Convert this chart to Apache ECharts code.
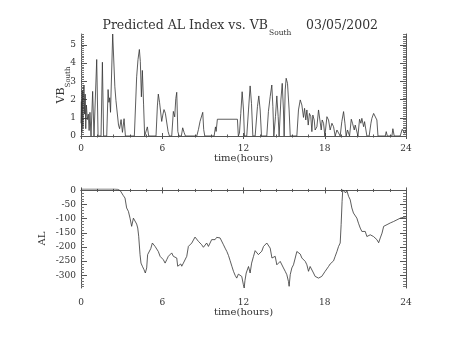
<!DOCTYPE html>
<html>
<head>
<meta charset="utf-8">
<script src="https://cdn.jsdelivr.net/npm/echarts@6/dist/echarts.min.js"></script>
<style>
  html, body { margin: 0; padding: 0; background: #fff; }
  #chart { width: 454px; height: 341px; }
</style>
</head>
<body>
<div id="chart"></div>
<script>
// Southward solar-wind driver VB_South (mV/m), sampled over the day (hours UT)
const vbHours = [
  0.00, 0.03, 0.06, 0.10, 0.14, 0.18, 0.22, 0.27, 0.31, 0.35, 0.40, 0.47, 0.54, 0.60, 0.66, 0.74,
  0.86, 0.96, 1.06, 1.16, 1.26, 1.48, 1.58, 1.67, 1.90, 2.00, 2.06, 2.12, 2.18, 2.34, 2.50, 2.58,
  2.68, 2.77, 2.85, 2.96, 3.06, 3.18, 3.28, 3.94, 4.11, 4.21, 4.31, 4.38, 4.46, 4.53, 4.62, 4.70,
  4.80, 4.90, 5.00, 5.54, 5.64, 5.71, 5.80, 5.89, 5.96, 6.04, 6.13, 6.23, 6.33, 6.43, 6.53, 6.70,
  6.82, 6.92, 7.00, 7.07, 7.15, 7.24, 7.41, 7.51, 7.61, 7.71, 8.55, 8.67, 8.79, 8.89, 8.99, 9.06,
  9.14, 9.83, 9.93, 9.98, 10.07, 11.55, 11.62, 11.70, 11.80, 11.90, 12.00, 12.07, 12.24, 12.37, 12.49, 12.59,
  12.69, 12.86, 13.03, 13.13, 13.23, 13.33, 13.72, 13.84, 13.97, 14.09, 14.17, 14.24, 14.36, 14.46, 14.56, 14.63,
  14.76, 14.86, 14.95, 15.00, 15.08, 15.15, 15.25, 15.37, 15.45, 15.94, 16.06, 16.19, 16.31, 16.43, 16.51, 16.60,
  16.68, 16.78, 16.87, 16.97, 17.05, 17.12, 17.22, 17.29, 17.42, 17.54, 17.66, 17.74, 17.81, 17.91, 18.01, 18.16,
  18.28, 18.40, 18.53, 18.65, 18.77, 18.90, 19.02, 19.14, 19.26, 19.39, 19.49, 19.58, 19.68, 19.83, 19.96, 20.05,
  20.18, 20.25, 20.37, 20.45, 20.57, 20.67, 20.74, 20.87, 20.94, 21.04, 21.11, 21.28, 21.41, 21.48, 21.61, 21.73,
  21.85, 21.93, 22.47, 22.54, 22.62, 22.96, 23.03, 23.13, 23.57, 23.72, 23.82, 23.90, 24.00
];
const vbValues = [
  0.70, 1.90, 0.20, 2.50, 0.50, 2.10, 2.80, 1.20, 2.30, 0.40, 1.70, 0.90, 1.20, 0.30, 1.30, 0.00,
  2.45, 0.00, 0.00, 4.20, 0.00, 0.00, 4.05, 0.00, 0.00, 2.55, 1.85, 2.10, 1.30, 5.60, 2.70, 1.95,
  1.85, 0.60, 0.40, 0.90, 0.20, 0.95, 0.00, 0.00, 3.25, 4.20, 4.75, 4.10, 2.15, 3.60, 1.75, 0.00,
  0.00, 0.50, 0.00, 0.00, 1.65, 2.30, 1.85, 1.95, 0.80, 1.15, 1.45, 1.25, 1.35, 0.25, 0.00, 0.00,
  1.35, 1.05, 2.05, 2.40, 0.25, 0.00, 0.00, 0.45, 0.20, 0.00, 0.00, 0.35, 0.80, 0.90, 1.30, 0.35,
  0.00, 0.00, 0.50, 0.25, 0.92, 0.92, 0.00, 0.15, 1.24, 2.43, 1.43, 0.00, 0.00, 1.43, 2.75, 1.79,
  0.00, 0.00, 1.61, 2.20, 1.43, 0.00, 0.00, 1.34, 2.16, 2.80, 1.61, 0.00, 1.06, 2.20, 1.06, 0.00,
  1.98, 2.89, 1.43, 0.00, 2.53, 3.17, 2.89, 1.43, 0.00, 0.00, 1.43, 1.98, 1.70, 1.02, 1.52, 0.88,
  1.43, 0.60, 1.24, 1.06, 0.24, 1.15, 0.88, 0.33, 0.51, 1.43, 1.34, 0.33, 0.88, 0.70, 0.00, 1.06,
  0.88, 0.33, 0.70, 0.51, 0.00, 0.33, 0.33, 0.00, 0.79, 1.34, 0.70, 0.00, 0.33, 0.00, 0.92, 0.70,
  0.33, 0.60, 0.51, 0.00, 0.92, 0.70, 0.97, 0.51, 0.79, 0.33, 0.00, 0.00, 0.70, 0.97, 1.24, 1.21,
  0.88, 0.00, 0.00, 0.24, 0.00, 0.00, 0.40, 0.00, 0.00, 0.37, 0.29, 0.15, 0.35
];

// Predicted AL index (nT) over the same day
const alHours = [
  0.00, 2.50, 2.55, 2.62, 2.70, 2.80, 2.90, 3.00, 3.12, 3.25, 3.37, 3.50, 3.62, 3.74, 3.87, 3.99,
  4.11, 4.19, 4.26, 4.36, 4.43, 4.53, 4.65, 4.75, 4.85, 4.92, 5.02, 5.15, 5.27, 5.34, 5.47, 5.59,
  5.71, 5.84, 5.96, 6.08, 6.21, 6.33, 6.45, 6.58, 6.70, 6.82, 6.95, 7.07, 7.14, 7.27, 7.37, 7.44,
  7.56, 7.68, 7.81, 7.93, 8.05, 8.18, 8.30, 8.42, 8.55, 8.67, 8.79, 8.91, 9.04, 9.16, 9.28, 9.41,
  9.53, 9.65, 9.78, 9.90, 10.02, 10.15, 10.27, 10.39, 10.52, 10.64, 10.77, 10.89, 11.01, 11.14, 11.26, 11.38,
  11.50, 11.62, 11.74, 11.87, 11.99, 12.05, 12.11, 12.20, 12.37, 12.49, 12.60, 12.74, 12.86, 12.98, 13.10, 13.23,
  13.35, 13.48, 13.60, 13.72, 13.85, 13.97, 14.10, 14.22, 14.34, 14.46, 14.59, 14.71, 14.83, 14.95, 15.08, 15.20,
  15.32, 15.37, 15.45, 15.57, 15.69, 15.82, 15.94, 16.06, 16.19, 16.31, 16.43, 16.56, 16.68, 16.80, 16.92, 17.05,
  17.17, 17.29, 17.42, 17.54, 17.66, 17.78, 17.90, 18.03, 18.16, 18.28, 18.40, 18.53, 18.65, 18.77, 18.90, 19.02,
  19.14, 19.21, 19.28, 19.33, 19.43, 19.54, 19.63, 19.76, 19.88, 20.00, 20.12, 20.25, 20.37, 20.49, 20.62, 20.74,
  20.86, 20.99, 21.11, 21.23, 21.36, 21.48, 21.60, 21.73, 21.85, 21.98, 22.10, 22.23, 22.35, 22.47, 22.60, 22.72,
  22.84, 22.96, 23.08, 23.21, 23.33, 23.45, 23.58, 23.70, 23.82, 23.95, 24.00
];
const alValues = [
  5, 5, 5, -2, 4, 3, -1, -3, -18, -27, -62, -74, -98, -127, -98, -92,
  -119, -133, -162, -227, -257, -268, -280, -292, -274, -227, -221, -206, -186, -192, -198, -192,
  -216, -233, -227, -245, -257, -245, -233, -227, -221, -233, -227, -239, -268, -263, -260, -268,
  -257, -253, -233, -198, -192, -186, -180, -165, -172, -180, -186, -192, -201, -194, -186, -198,
  -186, -174, -168, -174, -166, -162, -168, -174, -192, -204, -216, -230, -248, -268, -286, -300,
  -310, -296, -296, -304, -333, -345, -318, -292, -269, -292, -257, -233, -213, -218, -227, -221,
  -215, -198, -194, -186, -192, -204, -239, -245, -233, -263, -269, -251, -245, -274, -286, -298,
  -322, -339, -298, -274, -263, -239, -216, -218, -225, -239, -233, -251, -263, -286, -269, -274,
  -292, -304, -298, -310, -316, -304, -298, -286, -281, -269, -260, -253, -249, -233, -216, -198,
  -186, -121, -39, 2, -3, -9, 0, -21, -33, -62, -80, -84, -98, -116, -133, -145,
  -151, -145, -163, -168, -157, -151, -163, -168, -174, -185, -168, -151, -127, -133, -121, -119,
  -115, -112, -110, -107, -104, -101, -98, -98, -95, -94, -93
];

// Axis tick labels
const hourTicks = [0, 6, 12, 18, 24];
const vbTicks = [0, 1, 2, 3, 4, 5];
const alTicks = [0, -50, -100, -150, -200, -250, -300];

const FONT = '"DejaVu Serif", "Liberation Serif", serif';
const INK = '#333';
const AXIS = '#555';

// minor tick positions between the labelled ones
function minorValues(lo, hi, step) {
  const out = [];
  const start = Math.ceil(lo / step - 1e-9);
  const end = Math.floor(hi / step + 1e-9);
  for (let k = start; k <= end; k++) out.push(+(k * step).toFixed(6));
  return out;
}

function timeAxes(g, nameGap, labelMargin) {
  const base = {
    gridIndex: g, type: 'value', min: 0, max: 24, interval: 6,
    axisLine: { show: true, lineStyle: { color: AXIS, width: 1 } },
    axisTick: { show: true, inside: true, length: 3, lineStyle: { color: AXIS } },
    minorTick: { show: true, splitNumber: 5, length: 1.5, lineStyle: { color: AXIS } },
    splitLine: { show: false }, minorSplitLine: { show: false }
  };
  return [
    Object.assign({}, base, {
      position: 'bottom',
      axisLabel: { show: true, margin: labelMargin, fontFamily: FONT, fontSize: 9, color: INK,
        formatter: v => hourTicks.includes(v) ? String(v) : '' },
      name: 'time(hours)', nameLocation: 'middle', nameGap: nameGap, nameMoveOverlap: false,
      nameTextStyle: { fontFamily: FONT, fontSize: 10, color: INK }
    }),
    Object.assign({}, base, { position: 'top', axisLabel: { show: false } })
  ];
}

function valueAxes(g, min, max, majors, minorStep, nameCfg) {
  const minors = minorValues(min, max, minorStep).filter(v => !majors.includes(v));
  const line = { show: true, lineStyle: { color: AXIS, width: 1 } };
  const common = { gridIndex: g, type: 'value', min: min, max: max,
    splitLine: { show: false }, minorTick: { show: false } };
  const major = (pos, labelled) => Object.assign({}, common, {
    position: pos,
    axisLine: line,
    axisTick: { show: true, inside: true, length: 6, customValues: majors, lineStyle: { color: AXIS } },
    axisLabel: labelled
      ? { show: true, customValues: majors, margin: 5, fontFamily: FONT, fontSize: 9, color: INK }
      : { show: false }
  }, labelled ? nameCfg : {});
  const minor = pos => Object.assign({}, common, {
    position: pos,
    axisLine: { show: false },
    axisTick: { show: true, inside: true, length: 3, customValues: minors, lineStyle: { color: '#777' } },
    axisLabel: { show: false }
  });
  return [major('left', true), minor('left'), major('right', false), minor('right')];
}

const vbName = {
  name: '{a|VB}{b|South}', nameLocation: 'middle', nameGap: 11, nameMoveOverlap: false,
  nameTextStyle: {
    color: INK,
    rich: {
      a: { fontFamily: FONT, fontSize: 11, color: INK, lineHeight: 14, verticalAlign: 'top' },
      b: { fontFamily: FONT, fontSize: 7, color: INK, lineHeight: 8, padding: [9, 0, 0, 0], verticalAlign: 'top' }
    }
  }
};
const alName = {
  name: 'AL', nameLocation: 'middle', nameGap: 34, nameMoveOverlap: false,
  nameTextStyle: { fontFamily: FONT, fontSize: 10, color: INK }
};

const xAxes = timeAxes(0, 17, 8).concat(timeAxes(1, 19, 10));
const yAxes = valueAxes(0, 0, 5.6, vbTicks, 0.1, vbName)
  .concat(valueAxes(1, -345, 5, alTicks, 10, alName));

const chart = echarts.init(document.getElementById('chart'), null, { renderer: 'canvas' });
chart.setOption({
  backgroundColor: '#fff',
  animation: false,
  grid: [
    { left: 81, right: 48, top: 34, height: 102 },
    { left: 81, right: 48, top: 189, height: 99 }
  ],
  xAxis: xAxes,
  yAxis: yAxes,
  graphic: [
    { type: 'text', x: 268, y: 26, silent: true,
      style: { text: 'Predicted AL Index vs. VB', align: 'right', verticalAlign: 'middle',
        fontFamily: FONT, fontSize: 12.5, fill: INK } },
    { type: 'text', x: 269, y: 33.5, silent: true,
      style: { text: 'South', align: 'left', verticalAlign: 'middle',
        fontFamily: FONT, fontSize: 7.5, fill: INK } },
    { type: 'text', x: 306, y: 26, silent: true,
      style: { text: '03/05/2002', align: 'left', verticalAlign: 'middle',
        fontFamily: FONT, fontSize: 12.5, fill: INK } }
  ],
  series: [
    { type: 'line', xAxisIndex: 0, yAxisIndex: 0, showSymbol: false, silent: true,
      lineStyle: { color: '#333', width: 0.8 },
      data: vbHours.map((h, i) => [h, vbValues[i]]) },
    { type: 'line', xAxisIndex: 2, yAxisIndex: 4, showSymbol: false, silent: true,
      lineStyle: { color: '#333', width: 0.8 },
      data: alHours.map((h, i) => [h, alValues[i]]) }
  ]
});
</script>
</body>
</html>
